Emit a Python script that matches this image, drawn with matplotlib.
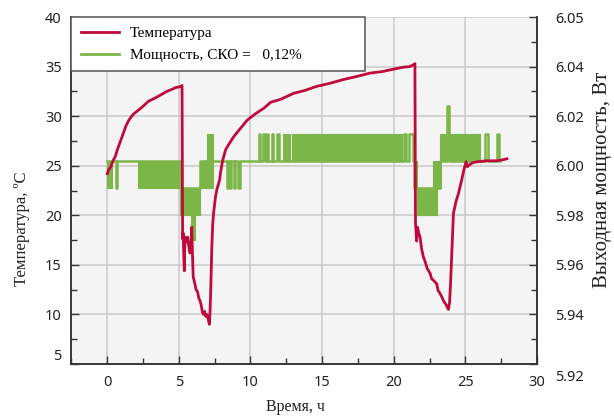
import numpy as np
import matplotlib
matplotlib.use("Agg")
import matplotlib.pyplot as plt
import matplotlib.transforms as mtransforms
from matplotlib.lines import Line2D

# temperature (hours, deg C)
temp_t = [0.00, 0.10, 0.25, 0.40, 0.55, 0.70, 0.85, 1.00, 1.15, 1.30, 1.47, 1.70, 1.90,
          2.17, 2.50, 2.87, 3.30, 3.80, 4.15, 4.50, 4.80, 5.00, 5.15, 5.22,
          5.26, 5.30, 5.34, 5.38, 5.42, 5.50, 5.60, 5.70, 5.78, 5.85, 5.90, 5.95,
          6.00, 6.10, 6.20, 6.30, 6.40, 6.47, 6.55, 6.65, 6.72, 6.80, 6.88, 6.95,
          7.05, 7.13, 7.18, 7.23, 7.30, 7.36, 7.42, 7.55, 7.65, 7.85, 7.90, 8.05,
          8.26, 8.50, 8.84, 9.20, 9.77, 10.30, 10.93, 11.40, 12.10, 13.00, 13.80,
          14.60, 15.50, 16.50, 17.40, 18.35, 19.20, 20.00, 20.70, 21.10, 21.40, 21.48,
          21.52, 21.60, 21.66, 21.75, 21.84, 21.95, 22.07, 22.20, 22.35, 22.54,
          22.65, 22.80, 23.00, 23.10, 23.20, 23.35, 23.50, 23.65, 23.82, 23.90,
          23.98, 24.05, 24.17, 24.35, 24.52, 24.75, 24.90, 25.05, 25.15, 25.30,
          25.50, 25.80, 26.50, 27.20, 27.60, 27.90]
temp_c = [24.2, 24.6, 24.9, 25.5, 25.9, 26.6, 27.2, 27.8, 28.4, 29.0, 29.5, 30.0, 30.3,
          30.6, 31.0, 31.5, 31.8, 32.2, 32.5, 32.7, 32.9, 32.95, 33.0, 33.1,
          17.6, 18.2, 16.0, 14.4, 17.8, 17.3, 17.8, 16.8, 16.2, 17.5, 18.8, 16.0,
          13.8, 13.2, 12.5, 12.3, 11.6, 11.4, 11.0, 10.2, 10.0, 10.3, 9.8, 10.0,
          9.5, 9.0, 10.5, 12.8, 16.8, 19.0, 20.2, 21.8, 22.6, 23.6, 24.25, 25.5,
          26.6, 27.2, 27.95, 28.6, 29.6, 30.2, 30.8, 31.4, 31.7, 32.3, 32.6,
          33.0, 33.3, 33.7, 34.0, 34.35, 34.5, 34.75, 34.95, 35.0, 35.2, 35.3,
          19.2, 17.4, 18.8, 18.2, 17.8, 16.6, 15.8, 15.3, 14.6, 14.15,
          13.6, 13.4, 13.1, 12.4, 12.2, 11.8, 11.3, 11.0, 10.5, 11.2,
          13.5, 16.0, 20.2, 21.4, 22.2, 23.6, 24.6, 25.4, 24.9, 25.1,
          25.3, 25.4, 25.5, 25.5, 25.6, 25.7]

# power, base trace as steps (hours, W)
pow_t = [0.00, 0.60, 0.68, 5.08, 6.47,
         8.35, 8.42, 8.60, 8.67, 8.85, 8.92, 9.10, 9.30,
         10.60, 10.68, 10.90, 10.98, 11.17, 11.25, 11.48, 11.58, 11.87, 11.97,
         20.70, 20.85, 21.05, 21.35, 21.44, 23.23, 23.74, 23.88,
         26.40, 26.60, 27.19, 27.35, 27.40]
pow_w = [6.002, 5.991, 6.002, 5.991, 6.002,
         5.991, 6.002, 5.991, 6.002, 5.991, 6.002, 5.991, 6.002,
         6.013, 6.002, 6.013, 6.002, 6.013, 6.002, 6.013, 6.002, 6.013, 6.002,
         6.013, 6.002, 6.013, 6.002, 5.991, 6.002, 6.024, 6.002,
         6.013, 6.002, 6.013, 6.002, 6.002]

# zones where the power toggles fast between two levels
band_t0 = [0.00, 2.17, 5.08, 5.85, 6.47, 6.98, 12.30, 12.90, 13.35, 13.90,
           21.44, 21.65, 22.77, 23.23]
band_t1 = [0.30, 5.08, 6.47, 6.15, 7.36, 7.36, 12.75, 13.25, 13.80, 20.55,
           21.65, 23.00, 23.28, 26.02]
band_lo = [5.991, 5.991, 5.980, 5.970, 5.991, 6.002, 6.002, 6.002, 6.002, 6.002,
           5.991, 5.980, 5.991, 6.002]
band_hi = [6.002, 6.002, 5.991, 5.980, 6.002, 6.013, 6.013, 6.013, 6.013, 6.013,
           6.002, 5.991, 6.002, 6.013]

x_ticks = [0, 5, 10, 15, 20, 25, 30]
left_ticks = [5, 10, 15, 20, 25, 30, 35, 40]
right_ticks = [5.92, 5.94, 5.96, 5.98, 6.00, 6.02, 6.04, 6.06]
right_labels = ['5.92', '5.94', '5.96', '5.98', '6.00', '6.02', '6.04', '6.05']

red = '#be0a3c'
green = '#7cb548'
serif = 'Liberation Serif'
sans = 'Noto Sans'

fig = plt.figure(figsize=(6.14, 4.16), dpi=100)
axp = fig.add_axes([0.1164, 0.125, 0.7581, 0.834])   # power axis, drawn below
axt = axp.twinx()                                     # temperature axis on top
axt.yaxis.tick_left()
axt.yaxis.set_label_position('left')
axp.yaxis.tick_right()
axp.yaxis.set_label_position('right')

axp.set_facecolor('#f4f4f4')
axt.patch.set_visible(False)

axp.set_xlim(-2.5, 30)
axp.set_ylim(5.92, 6.06)
axt.set_ylim(5, 40)

axp.grid(True, color='#c9c9c9', lw=1.1)
axp.set_axisbelow(True)

for a, b, lo, hi in zip(band_t0, band_t1, band_lo, band_hi):
    axp.fill_between([a, b], [lo, lo], [hi, hi], color=green, lw=0.8, edgecolor=green)
axp.plot(pow_t, pow_w, drawstyle='steps-post', color=green, lw=1.8)

axt.plot(temp_t, temp_c, color=red, lw=2.0)

axp.set_xticks(x_ticks)
axp.set_xticks(np.arange(-2.5, 30.1, 2.5), minor=True)
axp.set_yticks(right_ticks)
axp.set_yticklabels(right_labels)
axp.set_yticks(np.arange(5.93, 6.06, 0.02), minor=True)
axt.set_yticks(left_ticks)
axt.set_yticks(np.arange(7.5, 40, 5), minor=True)

for a in (axp, axt):
    a.tick_params(which='major', direction='in', length=6, width=1, color='#333333',
                  labelsize=10.5, labelcolor='#222222')
    a.tick_params(which='minor', direction='in', length=4, width=1, color='#333333')
    for s in a.spines.values():
        s.set_color('#333333')
        s.set_linewidth(1.1)
    a.spines['top'].set_visible(False)
axp.tick_params(axis='x', pad=8)
axp.tick_params(axis='y', pad=13)
axt.tick_params(axis='y', pad=7)
for lab in axp.get_xticklabels() + axp.get_yticklabels() + axt.get_yticklabels():
    lab.set_fontfamily(sans)

# bottom labels shifted apart like in the original
lab5 = axt.get_yticklabels()[0]
lab5.set_transform(lab5.get_transform() + mtransforms.ScaledTranslation(0, 7 / 72, fig.dpi_scale_trans))
lab592 = axp.get_yticklabels()[0]
lab592.set_transform(lab592.get_transform() + mtransforms.ScaledTranslation(0, -8 / 72, fig.dpi_scale_trans))

axt.set_ylabel('Температура, ºC', family=serif, fontsize=12, color='#222222')
axt.yaxis.set_label_coords(-0.09, 0.39)
axp.set_ylabel('Выходная мощность, Вт', family=serif, fontsize=15, color='#222222')
axp.yaxis.set_label_coords(1.12, 0.53)
axp.set_xlabel('Время, ч', family=serif, fontsize=11.5, color='#222222')
axp.xaxis.set_label_coords(0.482, -0.1)

handles = [Line2D([], [], color=red, lw=2), Line2D([], [], color=green, lw=2)]
leg = axt.legend(handles, ['Температура', 'Мощность, СКО =   0,12%'],
                 loc='upper left', bbox_to_anchor=(0, 1, 0.63, 0), mode='expand',
                 borderaxespad=0, fancybox=False, framealpha=1, edgecolor='#555555',
                 prop={'family': serif, 'size': 11}, handlelength=2.5,
                 handletextpad=0.7, labelspacing=0.55, borderpad=0.6)
leg.get_frame().set_linewidth(1.1)

fig.savefig('out.png', dpi=100)
